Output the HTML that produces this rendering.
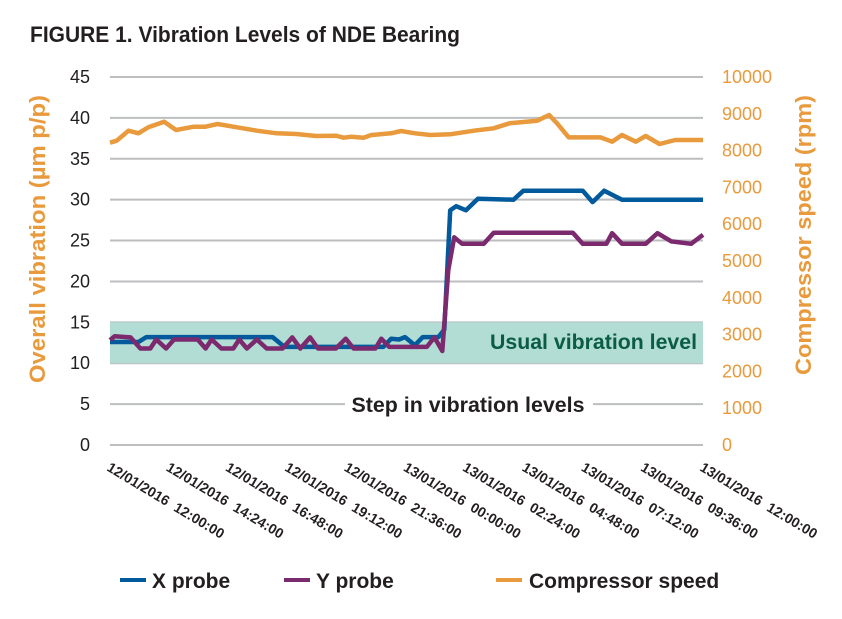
<!DOCTYPE html>
<html><head><meta charset="utf-8">
<style>
body{margin:0;background:#fff;}
svg text{font-family:"Liberation Sans Narrow","Liberation Sans",sans-serif;}
</style></head>
<body>
<svg id="chart" width="842" height="614" viewBox="0 0 842 614" xmlns="http://www.w3.org/2000/svg">
<text x="30" y="42" font-size="22" font-weight="bold" fill="#231f20" textLength="430" lengthAdjust="spacingAndGlyphs">FIGURE 1. Vibration Levels of NDE Bearing</text>
<g id="grid"></g>
<rect id="band" fill="#b2ddd4"/>
<g id="lines"></g>
<text x="697" y="349" text-anchor="end" font-size="21" font-weight="bold" fill="#0b5c45" textLength="207" lengthAdjust="spacingAndGlyphs">Usual vibration level</text>
<rect x="345" y="392" width="248" height="26" fill="#fff"/>
<text x="468" y="412" text-anchor="middle" font-size="21" font-weight="bold" fill="#231f20" textLength="233" lengthAdjust="spacingAndGlyphs">Step in vibration levels</text>
<g id="axes"></g>
<text transform="translate(45,239) rotate(-90)" text-anchor="middle" font-size="22" font-weight="bold" fill="#e89a3c" textLength="288" lengthAdjust="spacingAndGlyphs">Overall vibration (µm p/p)</text>
<text transform="translate(811,235) rotate(-90)" text-anchor="middle" font-size="22" font-weight="bold" fill="#e89a3c" textLength="280" lengthAdjust="spacingAndGlyphs">Compressor speed (rpm)</text>
<g>
<line x1="120" y1="580" x2="146" y2="580" stroke="#005a9c" stroke-width="4"/>
<text x="152" y="588" font-size="21" font-weight="bold" fill="#231f20">X probe</text>
<line x1="284" y1="580" x2="310" y2="580" stroke="#7b2a6e" stroke-width="4"/>
<text x="316" y="588" font-size="21" font-weight="bold" fill="#231f20">Y probe</text>
<line x1="496" y1="580" x2="522" y2="580" stroke="#e89a3c" stroke-width="4"/>
<text x="529" y="588" font-size="21" font-weight="bold" fill="#231f20">Compressor speed</text>
</g>
</svg>
<script>
const leftTicks=[0,5,10,15,20,25,30,35,40,45];
const rightTicks=[0,1000,2000,3000,4000,5000,6000,7000,8000,9000,10000];
const xTickHours=[0,2.4,4.8,7.2,9.6,12,14.4,16.8,19.2,21.6,24];
const xTickLabels=["12/01/2016 12:00:00","12/01/2016 14:24:00","12/01/2016 16:48:00","12/01/2016 19:12:00","12/01/2016 21:36:00","13/01/2016 00:00:00","13/01/2016 02:24:00","13/01/2016 04:48:00","13/01/2016 07:12:00","13/01/2016 09:36:00","13/01/2016 12:00:00"];
const bandRange=[10,15];
const speedHours=[0,.27,.75,1.15,1.55,2.19,2.67,3.39,3.87,4.35,5.14,5.94,6.74,7.54,8.34,9.14,9.46,9.78,10.26,10.58,11.38,11.78,12.34,12.97,13.77,14.73,15.53,16.17,17.29,17.77,18.09,18.57,19.85,20.32,20.72,21.28,21.68,22.24,22.88,24];
const speedValues=[8215,8270,8541,8469,8632,8786,8560,8650,8650,8723,8632,8541,8469,8451,8397,8406,8351,8378,8351,8424,8469,8532,8469,8424,8442,8541,8605,8741,8813,8967,8741,8360,8360,8243,8424,8243,8397,8179,8288,8288];
const xHours=[0,1.15,1.47,6.58,7.06,11.06,11.38,11.70,11.94,12.34,12.66,13.29,13.53,13.77,14.01,14.41,14.89,16.33,16.73,19.13,19.53,20.00,20.72,24];
const xValues=[12.6,12.6,13.2,13.2,12.0,12.0,13.0,12.9,13.2,12.2,13.2,13.2,14.1,28.7,29.2,28.7,30.1,30.0,31.1,31.1,29.7,31.1,30.0,30.0];
const yHours=[0,.19,.83,1.23,1.63,1.87,2.27,2.59,3.55,3.87,4.11,4.51,4.99,5.23,5.54,5.94,6.34,6.98,7.38,7.70,8.10,8.42,9.14,9.54,9.86,10.74,10.98,11.30,12.82,13.13,13.45,13.69,13.93,14.25,15.13,15.53,18.73,19.13,20.09,20.32,20.72,21.68,22.16,22.72,23.52,24];
const yValues=[12.83,13.3,13.16,11.8,11.8,12.9,11.8,12.9,12.9,11.8,12.9,11.8,11.8,12.9,11.8,12.9,11.8,11.8,13.16,11.8,13.16,11.8,11.8,13.0,11.8,11.8,13.0,12.0,12.0,13.16,11.5,21.4,25.4,24.6,24.6,25.96,25.96,24.6,24.6,25.9,24.6,24.6,25.9,24.9,24.6,25.7];

const X0=110,X1=703,Y0=445,Y1=77;
const xs=h=>X0+(h/24)*(X1-X0);
const yl=v=>Y0-(v/45)*(Y0-Y1);
const yr=v=>Y0-(v/10000)*(Y0-Y1);
const NS="http://www.w3.org/2000/svg";
function mk(tag,attrs,parent){const e=document.createElementNS(NS,tag);for(const k in attrs)e.setAttribute(k,attrs[k]);parent.appendChild(e);return e;}
const grid=document.getElementById('grid'),axes=document.getElementById('axes'),lines=document.getElementById('lines');
leftTicks.forEach(v=>{
  const g=mk('line',{x1:X0,x2:X1,y1:yl(v),y2:yl(v),stroke:'#bcbec0','stroke-width':2},grid);
  
  
  const t=mk('text',{x:90,y:yl(v)+6,'text-anchor':'end','font-size':18,fill:'#231f20'},axes);
  t.textContent=v;
  
  
});
rightTicks.forEach(v=>{
  const t=mk('text',{x:722,y:yr(v)+6,'font-size':18,fill:'#e89a3c'},axes);
  t.textContent=v;
  
  
});
xTickHours.forEach((h,i)=>{
  const x=xs(h)-4;
  const t=mk('text',{transform:`translate(${x},470) rotate(31)`,'font-size':14,'font-weight':'bold',fill:'#231f20'},axes);
  t.textContent=xTickLabels[i].replace(' ','\u00a0\u00a0');
  
  
});
const band=document.getElementById('band');
band.setAttribute('x',X0);band.setAttribute('width',X1-X0);
band.setAttribute('y',yl(bandRange[1]));band.setAttribute('height',yl(bandRange[0])-yl(bandRange[1]));
function series(hs,vs,scale,color,name){
  const d=hs.map((h,i)=>(i?'L':'M')+xs(h).toFixed(1)+','+scale(vs[i]).toFixed(1)).join(' ');
  const p=mk('path',{d:d,fill:'none',stroke:color,'stroke-width':4.5,'stroke-linejoin':'round'},lines);
  
  
}
series(speedHours,speedValues,yr,'#e89a3c','compressor-speed-line');
series(xHours,xValues,yl,'#005a9c','x-probe-line');
series(yHours,yValues,yl,'#7b2a6e','y-probe-line');
</script>
</body></html>
